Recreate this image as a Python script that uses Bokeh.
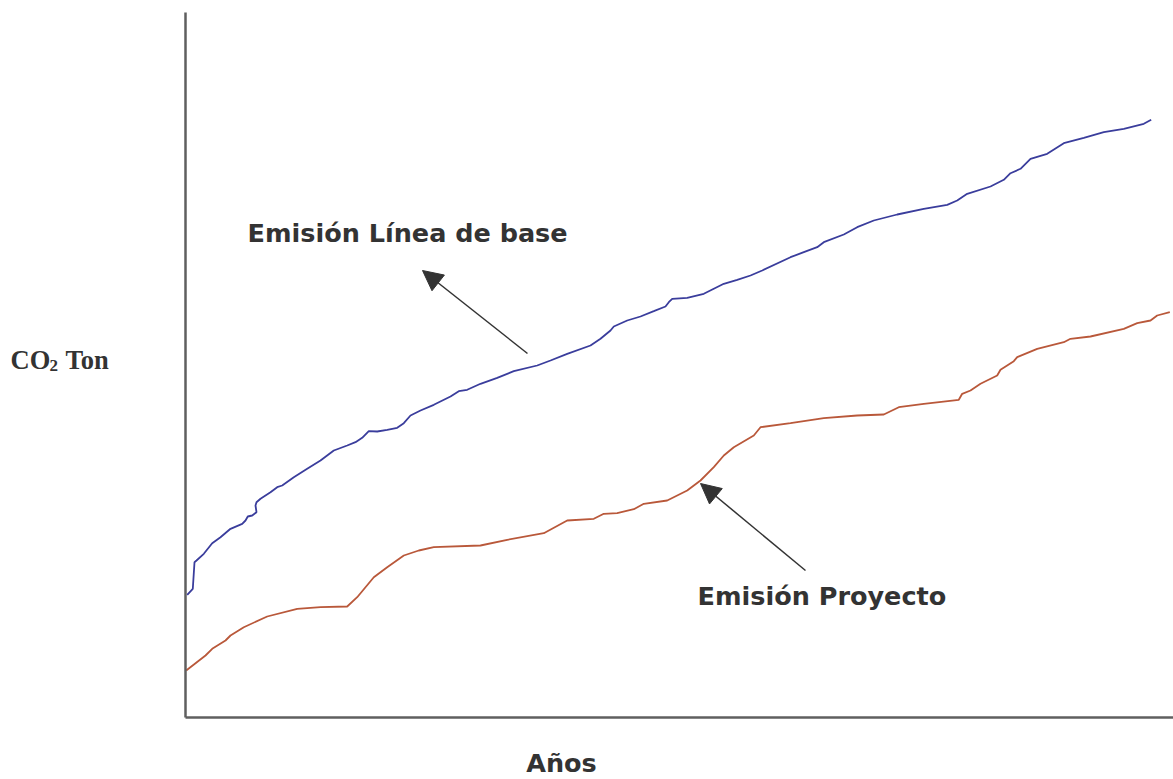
from bokeh.plotting import figure
from bokeh.models import Label, Arrow, NormalHead, Range1d, LinearAxis, FixedTicker
from bokeh.embed import file_html
from bokeh.resources import INLINE

# Baseline emission (arbitrary units: years on x, tons on y)
base_x = [1.7, 7.3, 9, 11, 18.3, 26.7, 35, 45, 56.7, 60, 62.3, 66.7, 71, 70, 71, 75, 85, 91.7, 96.7, 108.3,
          121.7, 135, 148.3, 161.7, 170, 176.7, 183.3, 191.7, 201.7, 211.7, 218.3, 225, 235, 248.3, 265, 273.3,
          281.7, 295, 311.7, 328.3, 351.7, 365, 381.7, 405, 415, 425, 428.3, 441.7, 455, 468.3, 480, 483.3,
          486.7, 501.7, 518.3, 528.3, 538.3, 551.7, 565, 576.7, 605, 618.3, 631.7, 638.3, 658.3, 671.7, 688.3,
          711.7, 738.3, 761.7, 771.7, 781.7, 805, 818.3, 825, 835, 845, 861.7, 878.3, 898.3, 918.3, 938.3,
          958.3, 965.7]
base_y = [122.7, 128.7, 155.3, 157, 163.7, 174.3, 180.3, 188.7, 193.7, 197, 201, 202, 205.3, 212, 215.3, 218.7,
          225.3, 230.3, 232, 240.3, 248.7, 257, 267, 272, 275.3, 279.7, 286.3, 286, 287.7, 289.7, 294.3, 302, 307,
          312.7, 321, 326.3, 327.7, 333.7, 339.7, 346.3, 352, 357, 363.7, 372, 378.7, 387, 391, 397, 401, 406.3,
          411, 415.3, 418.7, 419.7, 423.7, 428.7, 433.7, 437.7, 442, 447, 460.3, 465.3, 470.3, 475.3, 483, 490.3,
          497, 503, 508.7, 512.7, 517, 523.7, 531, 537.7, 544.3, 548.7, 558.7, 563.7, 574.3, 579.7, 585.3, 588.7,
          593.7, 597.7]

# Project emission
proj_x = [0.7, 20, 26.7, 40, 45, 58.3, 81.7, 111.7, 135, 161.7, 171.7, 188.3, 201.7, 218.3, 233.3, 248.3, 295,
          321.7, 358.3, 381.7, 408.3, 418.3, 431.7, 448.3, 458.3, 481.7, 501.7, 515, 528.3, 538.3, 548.3, 568.3,
          575, 605, 638.3, 671.7, 698.3, 705, 713.3, 738.3, 773.3, 776.7, 785, 795, 811.7, 815, 828.3, 831.7,
          851.7, 878.3, 885, 905, 938.3, 951.7, 965, 971.7, 984.3]
proj_y = [47, 62, 68.7, 77, 82, 90.3, 101, 108.7, 110.3, 111, 120.3, 140.3, 150.3, 162, 167, 170.3, 172, 177.7,
          184.3, 197, 198.7, 203.7, 204.3, 208.3, 213.7, 217, 227, 237, 250.3, 262, 270.3, 282, 290.3, 294.3,
          299.3, 302, 303, 306.3, 310.3, 313.7, 317.7, 323.7, 327, 333.7, 342, 347.7, 356.3, 360.3, 368.7, 375.3,
          378.7, 381, 388.7, 394.3, 397, 402, 405.3]

# Axis extents (years, tons)
x_extent = (0, 988)
y_extent = (0, 705)

# Annotation texts
label_base = "Emisión Línea de base"
label_proj = "Emisión Proyecto"
label_x = "Años"
label_y_main = "CO"
label_y_sub = "2"
label_y_rest = "Ton"

# Arrow annotation endpoints (start -> tip)
arrow_base = [342, 364, 237, 447]
arrow_proj = [620, 147, 515, 234]

p = figure(width=1173, height=779, output_backend="svg", toolbar_location=None,
           x_range=Range1d(-185, 988), y_range=Range1d(-62, 717),
           x_axis_location=None, y_axis_location=None,
           min_border=0)
p.outline_line_color = None
p.grid.grid_line_color = None
p.background_fill_color = "white"
p.border_fill_color = "white"

for side, bounds in (("below", x_extent), ("left", y_extent)):
    ax = LinearAxis(fixed_location=0, bounds=bounds, ticker=FixedTicker(ticks=[]))
    ax.major_tick_line_color = None
    ax.minor_tick_line_color = None
    ax.major_tick_in = 0
    ax.major_tick_out = 0
    ax.minor_tick_in = 0
    ax.minor_tick_out = 0
    ax.major_label_text_font_size = "0px"
    ax.major_label_standoff = 0
    ax.axis_line_color = "#5f5f5f"
    ax.axis_line_width = 2.5
    p.add_layout(ax, side)

p.line(base_x, base_y, line_color="#3a3d9c", line_width=1.8)
p.line(proj_x, proj_y, line_color="#b9583a", line_width=1.8)

for a in (arrow_base, arrow_proj):
    p.add_layout(Arrow(end=NormalHead(size=20, fill_color="#333333", line_color="#333333"),
                       x_start=a[0], y_start=a[1], x_end=a[2], y_end=a[3],
                       line_color="#333333", line_width=1.5))

font = "DejaVu Sans"
p.add_layout(Label(x=62, y=485, text=label_base, text_font=font, text_font_style="bold",
                   text_font_size="25.5px", text_color="#333333", text_baseline="middle"))
p.add_layout(Label(x=512, y=122, text=label_proj, text_font=font, text_font_style="bold",
                   text_font_size="25.5px", text_color="#333333", text_baseline="middle"))
p.add_layout(Label(x=376, y=-45, text=label_x, text_font=font, text_font_style="bold",
                   text_font_size="25.5px", text_color="#333333", text_baseline="middle", text_align="center"))

serif = "Liberation Serif"
p.add_layout(Label(x=-175, y=358, text=label_y_main, text_font=serif, text_font_style="bold",
                   text_font_size="26.5px", text_color="#333333", text_baseline="middle"))
p.add_layout(Label(x=-136, y=352, text=label_y_sub, text_font=serif, text_font_style="bold",
                   text_font_size="17px", text_color="#333333", text_baseline="middle"))
p.add_layout(Label(x=-120, y=358, text=label_y_rest, text_font=serif, text_font_style="bold",
                   text_font_size="26.5px", text_color="#333333", text_baseline="middle"))

open("out.html", "w").write(file_html(p, INLINE))
